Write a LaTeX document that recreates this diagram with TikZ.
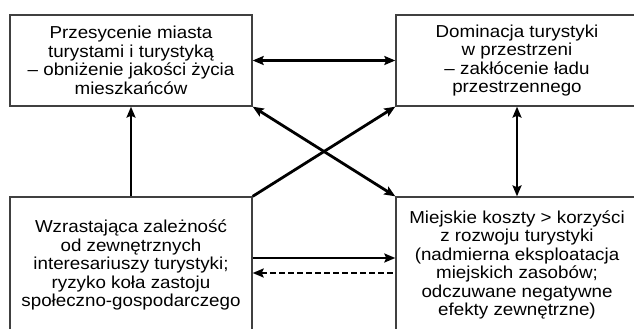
\documentclass[tikz,border=0pt]{standalone}
\usepackage{fontspec}
\setmainfont{Liberation Sans}
\usetikzlibrary{arrows.meta}
\begin{document}
\begin{tikzpicture}[x=1pt,y=-1pt,
  box/.style={draw=black!75, line width=1.3pt, rectangle, align=center, inner sep=0pt,
    xscale=1.085, transform shape, minimum width=223pt,
    font=\fontsize{17.3}{18.5}\selectfont},
  arr/.style={line width=2.8pt, black, arrows={-Stealth[length=11pt,width=9pt,inset=2pt]}},
  darr/.style={line width=2.8pt, black, arrows={Stealth[length=11pt,width=9pt,inset=2pt]-Stealth[length=11pt,width=9pt,inset=2pt]}},
  barr/.style={line width=2.8pt, black, arrows={Stealth[length=11pt,width=9pt,inset=2pt]-}}]
\useasboundingbox (0,0) rectangle (634,329);
\clip (0,0) rectangle (634,329);
\node[box, minimum height=91pt] (tl) at (131,60.5)
  {Przesycenie miasta\\turystami i turystyką\\– obniżenie jakości życia\\mieszkańców};
\node[box, minimum height=91pt] (tr) at (517,60.5)
  {Dominacja turystyki\\w przestrzeni\\– zakłócenie ładu\\przestrzennego};
\node[box, minimum height=136pt] (bl) at (131,265)
  {Wzrastająca zależność\\od zewnętrznych\\interesariuszy turystyki;\\ryzyko koła zastoju\\społeczno-gospodarczego};
\node[box, minimum height=136pt] (br) at (517,265)
  {Miejskie koszty > korzyści\\z rozwoju turystyki\\(nadmierna eksploatacja\\miejskich zasobów;\\odczuwane negatywne\\efekty zewnętrzne)};
\draw[darr] (tl.east) -- (tr.west);
\draw[arr] (bl.north) -- (tl.south);
\draw[arr] (bl.north east) -- (tr.south west);
\draw[darr] (tl.south east) -- (br.north west);
\draw[darr] (tr.south) -- (br.north);
\draw[arr] ([yshift=7pt]bl.east) -- ([yshift=7pt]br.west);
\draw[barr, dash pattern=on 6pt off 3pt] ([yshift=-8pt]bl.east) -- ([yshift=-8pt]br.west);
\end{tikzpicture}
\end{document}
